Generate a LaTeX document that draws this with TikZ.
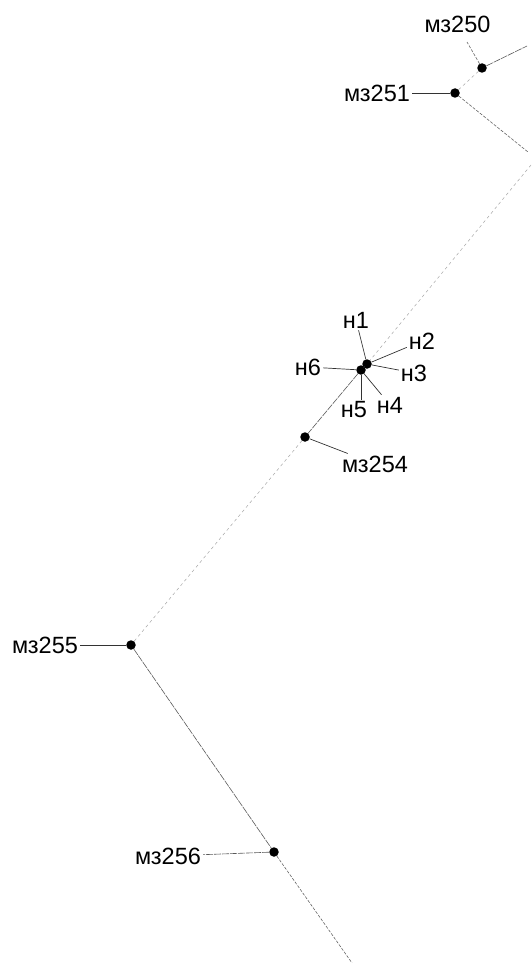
\documentclass[tikz,border=0pt]{standalone}
\usepackage{fontspec}
\setmainfont{Liberation Sans}
\usetikzlibrary{positioning}
\begin{document}
\begin{tikzpicture}[x=1pt,y=1pt]
                    \tikzstyle{every node}+=[inner sep=2pt,font=\fontsize{23.5}{25}\selectfont]
                    \tikzstyle{dot}=[circle,fill=black,inner sep=0pt,minimum size=9.5pt]
                    \tikzstyle{leader}=[black!80,line width=0.7pt]
                    \tikzstyle{branch}=[black!65,line width=0.6pt,dash pattern=on 7pt off 1pt]
                    \tikzstyle{dotty}=[black!60,line width=0.6pt,dash pattern=on 3pt off 1.5pt]
                    \tikzstyle{faint}=[black!35,line width=0.5pt,dash pattern=on 3pt off 3pt]
                    \useasboundingbox (0,0) rectangle (531,-963);
                    % points on the line
                    \draw (482,-68) node [dot] (p250) {};
                    \draw (455,-93) node [dot] (p251) {};
                    \draw (367,-364) node [dot] (p1) {};
                    \draw (361,-370) node [dot] (p2) {};
                    \draw (305,-437) node [dot] (p254) {};
                    \draw (131,-645) node [dot] (p255) {};
                    \draw (274,-852) node [dot] (p256) {};
                    \coordinate (top) at (527,-46);
                    \coordinate (bendA) at (528,-152);
                    \coordinate (bendB) at (531,-165);
                    \coordinate (bottom) at (352,-963);
                    \coordinate (end250) at (467,-42);
                    % labels
                    \draw (457.5,-24) node (m250) {мз250};
                    \draw (377,-93) node (m251) {мз251};
                    \draw (375,-464) node (m254) {мз254};
                    \draw (45,-645) node (m255) {мз255};
                    \draw (168,-856) node (m256) {мз256};
                    \draw (356,-320) node (n1) {н1};
                    \draw (422,-341) node (n2) {н2};
                    \draw (414,-373) node (n3) {н3};
                    \draw (390,-405) node (n4) {н4};
                    \draw (354,-410) node (n5) {н5};
                    \draw (308,-367) node (n6) {н6};
                    % line
                    \draw [branch] (p250) -- (top);
                    \draw [faint] (p250) -- (p251);
                    \draw [dotty] (p251) -- (bendA);
                    \draw [faint] (bendB) -- (p1);
                    \draw [leader] (p1) -- (p2);
                    \draw [branch] (p2) -- (p254);
                    \draw [faint] (p254) -- (p255);
                    \draw [branch] (p255) -- (p256);
                    \draw [dotty] (p256) -- (bottom);
                    % leaders
                    \draw [dotty] (p250) -- (end250);
                    \draw [leader] (p251) -- (m251);
                    \draw [leader] (p254) -- (m254);
                    \draw [leader] (p255) -- (m255);
                    \draw [branch] (p256) -- (m256);
                    \draw [leader] (p1) -- (n1);
                    \draw [leader] (p1) -- (n2);
                    \draw [leader] (p1) -- (n3);
                    \draw [leader] (p2) -- (n4);
                    \draw [leader] (p2) -- (p2 |- n5.north);
                    \draw [leader] (p2) -- (n6);
                \end{tikzpicture}
\end{document}
